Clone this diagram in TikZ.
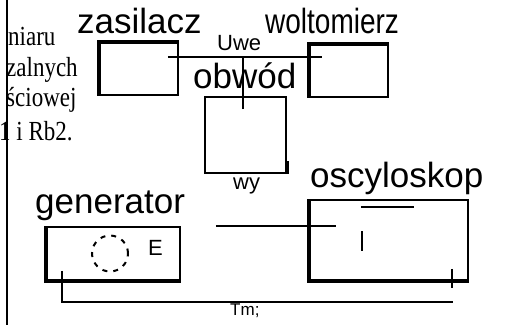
\documentclass[tikz,border=0pt]{standalone}
\usepackage{fontspec}
\setmainfont{Liberation Sans}
\newfontfamily\tekstfont{Liberation Serif}
\usetikzlibrary{positioning, calc}

\begin{document}
\begin{tikzpicture}[
    x=1pt, y=-1pt,
    blok/.style={rectangle, draw, line width=1.6pt, inner sep=0pt},
    gruba/.style={line width=4pt},
    drut/.style={line width=1.6pt},
    etykieta/.style={anchor=base west, inner sep=0pt, font=\fontsize{35}{40}\selectfont},
    mala/.style={anchor=base west, inner sep=0pt, font=\fontsize{22}{26}\selectfont},
    tekst/.style={anchor=base west, inner sep=0pt, font=\tekstfont\fontsize{23}{27}\selectfont}
  ]
  \useasboundingbox (0,0) rectangle (509,325);
  \clip (0,0) rectangle (509,325);

  % resztki tekstu z lewej strony
  \node[tekst] (t1) at (8,45) {\scalebox{1}[1.2]{niaru}};
  \node[tekst] (t2) at (6,76) {\scalebox{1}[1.2]{zalnych}};
  \node[tekst] (t3) at (6,106) {\scalebox{1}[1.2]{ściowej}};
  \node[tekst] (t4) at (-1,140) {\scalebox{1}[1.2]{1 i Rb2.}};
  \draw[line width=1.5pt] (7,0) -- (7,325);

  % bloki
  \node[blok, minimum width=78pt, minimum height=52pt] (zas) at (139,69) {};
  \node[blok, minimum width=78pt, minimum height=52pt] (wol) at (349,71) {};
  \node[blok, minimum width=81pt, minimum height=76pt] (obw) at (245.5,135) {};
  \node[blok, minimum width=133pt, minimum height=53pt] (gen) at (113.5,253.5) {};
  \node[blok, minimum width=158pt, minimum height=80pt] (osc) at (389,240) {};

  \draw[gruba] (zas.south west) -- (zas.north west) -- (zas.north east);
  \draw[gruba] (wol.south west) -- (wol.north west) -- (wol.north east);
  \draw[gruba] (obw.south east) -- ++(0,-13);
  \draw[gruba] (gen.north west) -- (gen.south west) -- (gen.south east);
  \draw[gruba] (osc.north west) -- (osc.south west) -- (osc.south east);

  % podpisy
  \node[etykieta] (lzas) at (77,33) {zasilacz};
  \node[etykieta] (lwol) at (265,33) {\scalebox{0.8}[1]{woltomierz}};
  \node[etykieta] (lobw) at (193,88) {obwód};
  \node[etykieta] (lgen) at (35,213) {generator};
  \node[etykieta] (losc) at (310,187) {oscyloskop};
  \node[mala] (uwe) at (217,50) {Uwe};
  \node[mala] (wy) at (233,189) {wy};
  \node[mala] (e) at (148,255) {E};
  \node[mala, font=\fontsize{17}{20}\selectfont] (tm) at (230,315) {Tm;};

  % polaczenia
  \draw[drut] ($(zas.north east)+(-11,15)$) -- ($(wol.north west)+(13,13)$);
  \draw[drut] ($(obw.north)+(-2.5,13)$) -- ++(0,-52);
  \draw[drut] ($(gen.north east)+(35,0)$) -- ($(osc.north west)+(27,27)$);
  \draw[drut] ($(gen.south west)+(16,-10)$) |- ($(osc.south east)+(-16,21)$);

  % wnetrza
  \draw[line width=2pt, dash pattern=on 5pt off 6pt] ($(gen.center)+(-3.5,0)$) circle (18pt);
  \draw[line width=2.5pt] ($(osc.north west)+(52,8)$) -- ++(53,0);
  \draw[drut] ($(osc.north west)+(53,32)$) -- ++(0,20);
  \draw[drut] ($(osc.south east)+(-17,-12)$) -- ++(0,19);
\end{tikzpicture}
\end{document}
